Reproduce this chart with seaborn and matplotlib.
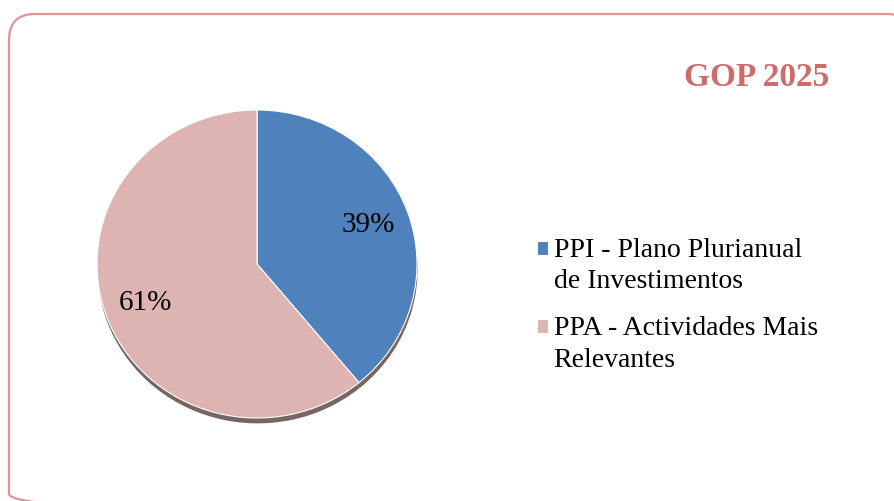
import matplotlib
matplotlib.use("Agg")
import matplotlib.pyplot as plt
from matplotlib.patches import FancyBboxPatch, Rectangle
from matplotlib.legend_handler import HandlerPatch
import seaborn as sns

# chart data
labels = ["PPI - Plano Plurianual\nde Investimentos",
          "PPA - Actividades Mais\nRelevantes"]
shares = [39, 61]
colors = ["#4F81BD", "#DDB4B1"]
title = "GOP 2025"

sns.set_theme(style="white")
plt.rcParams["font.family"] = ["Liberation Serif", "DejaVu Serif"]
plt.rcParams["text.color"] = "black"

fig = plt.figure(figsize=(8.95, 5.01), dpi=100)
fig.patch.set_facecolor("white")

# background axes in pixel units for the rounded frame
bg = fig.add_axes([0, 0, 1, 1])
bg.set_xlim(0, 895)
bg.set_ylim(501, 0)
bg.axis("off")
bg.add_patch(FancyBboxPatch(
    (9, 14), 904, 506,
    boxstyle="round,pad=0,rounding_size=26",
    facecolor="none",
    edgecolor="#E09595",
    linewidth=1.6,
))

# pie axes: center ~ (257, 264) px, rx ~160, ry ~154
ax = fig.add_axes([97 / 895, (501 - 418) / 501, 320 / 895, 308 / 501])

# shadow under the pie
ax.pie(
    shares,
    colors=["#5E4A47", "#5E4A47"],
    startangle=90,
    counterclock=False,
    center=(0.004, -0.035),
    wedgeprops={"linewidth": 0, "alpha": 0.85},
)

wedges, _, autotexts = ax.pie(
    shares,
    colors=colors,
    startangle=90,
    counterclock=False,
    autopct="%d%%",
    pctdistance=0.74,
    wedgeprops={"edgecolor": "white", "linewidth": 0.8},
    textprops={"fontsize": 21, "color": "black"},
)
ax.set_aspect("auto")
ax.set_xlim(-1, 1)
ax.set_ylim(-1, 1)

fig.text(757 / 895, 1 - 77 / 501, title,
         fontsize=24, fontweight="bold", color="#CF6C6B",
         ha="center", va="center")


def top_square(legend, orig_handle, xdescent, ydescent, width, height, fontsize):
    # put the colour square beside the first line of the label
    return Rectangle((-xdescent, -ydescent + 0.65 * fontsize), width, height)


leg = fig.legend(
    wedges, labels,
    loc="upper left",
    bbox_to_anchor=(512 / 895, 1 - 213 / 501),
    frameon=False,
    fontsize=20,
    labelcolor="black",
    handlelength=0.4,
    handleheight=0.4,
    handletextpad=0.2,
    labelspacing=0.8,
    handler_map={w: HandlerPatch(patch_func=top_square) for w in wedges},
)
for t in leg.get_texts():
    t.set_linespacing(1.33)

fig.savefig("out.png", dpi=100)
